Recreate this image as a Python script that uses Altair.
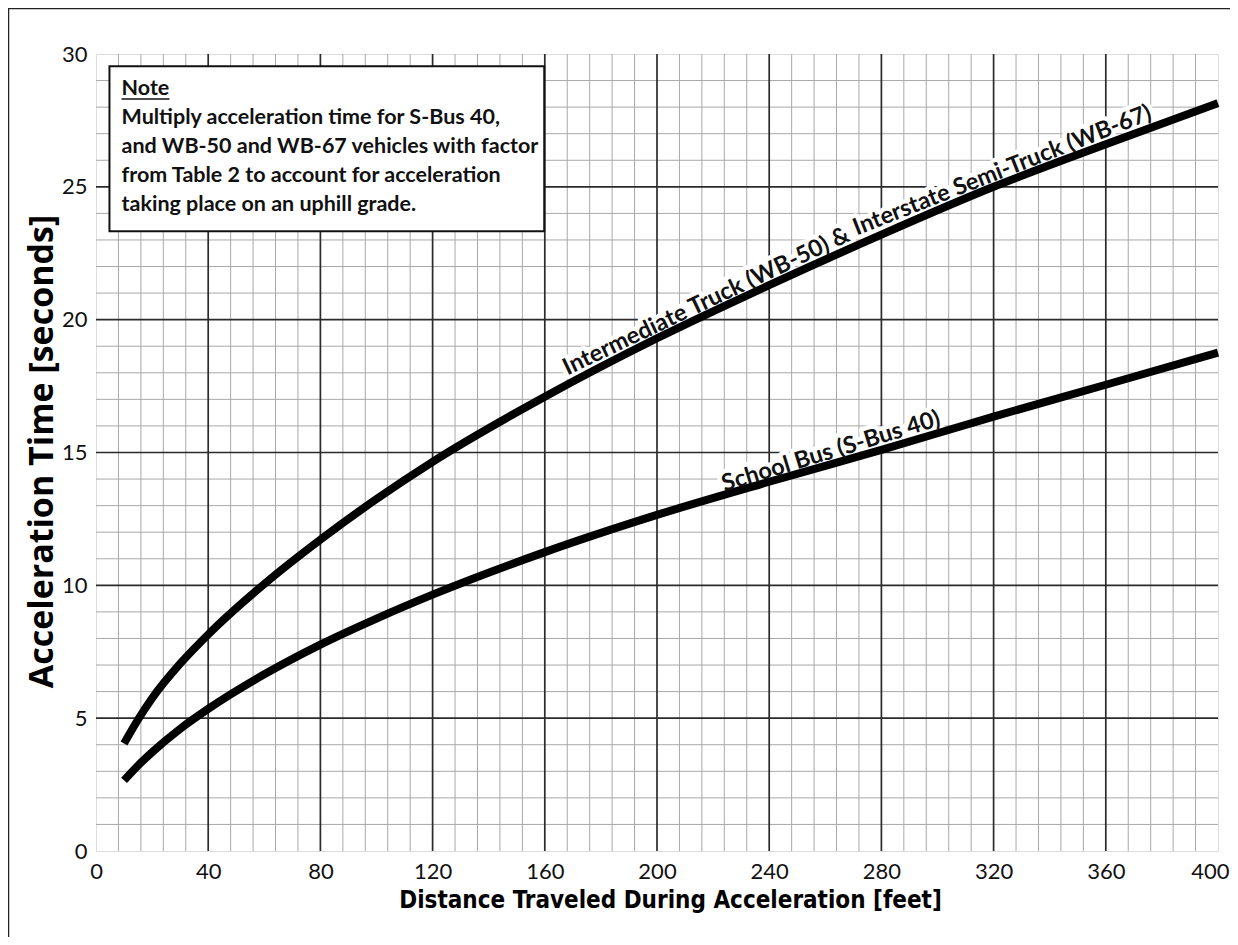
import altair as alt
import pandas as pd
import numpy as np

# ---- data ----
distance_ft = [10, 15, 20, 30, 40, 60, 80, 100, 120, 160, 200, 240, 280, 320, 360, 400]
truck_time_s = [4.05, 4.95, 5.75, 7.05, 8.15, 10.05, 11.72, 13.25, 14.65, 17.1, 19.3, 21.3, 23.2, 25.0, 26.6, 28.15]
bus_time_s = [2.66, 3.22, 3.72, 4.6, 5.35, 6.65, 7.77, 8.75, 9.65, 11.25, 12.65, 13.9, 15.1, 16.35, 17.55, 18.76]

x_ticks = list(range(0, 401, 40))
y_ticks = list(range(0, 31, 5))
x_minor = [v for v in range(8, 400, 8) if v % 40]
y_minor = [v for v in range(1, 30) if v % 5]
x_major_inner = x_ticks[1:-1]
y_major_inner = y_ticks[1:-1]

note_lines = [
    "Note",
    "Multiply acceleration time for S-Bus 40,",
    "and WB-50 and WB-67 vehicles with factor",
    "from Table 2 to account for acceleration",
    "taking place on an uphill grade.",
]
note_baselines = [28.45, 27.36, 26.27, 25.18, 24.09]
note_left = 9.1
note_box = dict(x1=4.8, x2=159.8, y1=23.33, y2=29.54)
note_underline = dict(x1=9.1, x2=26.2, y=28.31)

curve_labels = ["Intermediate Truck (WB-50) &", "Interstate Semi-Truck (WB-67)", "School Bus (S-Bus 40)"]
curve_label_x = [219.5, 324.7, 263.3]
curve_label_series = ["truck", "truck", "bus"]
curve_label_angle = [334.5, 338.5, 343.0]

W, H = 1122, 797
LABEL_FONT = "Lato"
BOLD_FONT = "Lato"

# ---- tables ----
curves = pd.concat([
    pd.DataFrame({"d": distance_ft, "t": truck_time_s, "series": "truck"}),
    pd.DataFrame({"d": distance_ft, "t": bus_time_s, "series": "bus"}),
])
series_map = {"truck": truck_time_s, "bus": bus_time_s}
labels_df = pd.DataFrame({
    "label": curve_labels,
    "d": curve_label_x,
    "t": [float(np.interp(x, distance_ft, series_map[s])) for x, s in zip(curve_label_x, curve_label_series)],
    "ang": curve_label_angle,
})
note_df = pd.DataFrame({"line": note_lines, "t": note_baselines, "d": note_left})
box_df = pd.DataFrame([note_box])
ul_df = pd.DataFrame([note_underline])

xscale = alt.Scale(domain=[0, 400], nice=False, zero=False)
yscale = alt.Scale(domain=[0, 30], nice=False, zero=False)
xaxis = alt.Axis(values=x_ticks, grid=False, ticks=False, domain=False,
                 labelFont=LABEL_FONT, labelFontSize=22, labelColor="#111",
                 labelPadding=10, labelFlush=False,
                 labelAlign={"condition": {"test": "datum.value >= 400", "value": "right"}, "value": "center"},
                 labelOffset={"condition": {"test": "datum.value >= 400", "value": 11}, "value": 0},
                 title="Distance Traveled During Acceleration [feet]",
                 titleFont="DejaVu Sans Condensed, sans-serif",
                 titleFontSize=24, titleFontWeight="bold", titleColor="#000",
                 titleX=574, titleY=56, titleBaseline="alphabetic", titleAlign="center")
yaxis = alt.Axis(values=y_ticks, grid=False, ticks=False, domain=False,
                 labelFont=LABEL_FONT, labelFontSize=22, labelColor="#111",
                 labelPadding=9, labelFlush=False,
                 title="Acceleration Time [seconds]",
                 titleFont="Open Sans", titleFontSize=34, titleFontWeight="bold",
                 titleColor="#000", titleX=-44, titleY=397,
                 titleBaseline="alphabetic", titleAlign="center", titleAngle=270)


def X(f):
    return alt.X(f, type="quantitative", scale=xscale, axis=xaxis)


def Y(f):
    return alt.Y(f, type="quantitative", scale=yscale, axis=yaxis)


minor_v = alt.Chart(pd.DataFrame({"d": x_minor})).mark_rule(color="#a8a8a8", strokeWidth=1).encode(
    x=X("d"), y=alt.value(0), y2=alt.value(H))
minor_h = alt.Chart(pd.DataFrame({"t": y_minor})).mark_rule(color="#a8a8a8", strokeWidth=1).encode(
    y=Y("t"), x=alt.value(0), x2=alt.value(W))
major_v = alt.Chart(pd.DataFrame({"d": x_major_inner})).mark_rule(color="#2b2b2b", strokeWidth=1.7).encode(
    x=X("d"), y=alt.value(0), y2=alt.value(H))
major_h = alt.Chart(pd.DataFrame({"t": y_major_inner})).mark_rule(color="#2b2b2b", strokeWidth=1.7).encode(
    y=Y("t"), x=alt.value(0), x2=alt.value(W))

box = alt.Chart(box_df).mark_rect(fill="white", stroke="#111", strokeWidth=2).encode(
    x=X("x1"), x2="x2", y=Y("y1"), y2="y2")
note_text = alt.Chart(note_df).mark_text(align="left", baseline="alphabetic", font=BOLD_FONT,
                                         fontWeight="bold", fontSize=21.5, color="#111").encode(
    x=X("d"), y=Y("t"), text="line")
underline = alt.Chart(ul_df).mark_rule(color="#111", strokeWidth=1.5).encode(
    x=X("x1"), x2="x2", y=Y("y"))

halo = alt.Chart(labels_df).mark_text(align="center", baseline="alphabetic", dy=-5, font=BOLD_FONT,
                                      fontWeight="bold", fontSize=23.5, color="white", stroke="white",
                                      strokeWidth=9, strokeJoin="round").encode(
    x=X("d"), y=Y("t"), text="label", angle=alt.Angle("ang:Q", scale=None))
lines = alt.Chart(curves).mark_line(color="black", strokeWidth=8, interpolate="monotone",
                                    strokeCap="butt").encode(
    x=X("d"), y=Y("t"), detail="series:N")
label_text = alt.Chart(labels_df).mark_text(align="center", baseline="alphabetic", dy=-5, font=BOLD_FONT,
                                            fontWeight="bold", fontSize=23.5, color="#111").encode(
    x=X("d"), y=Y("t"), text="label", angle=alt.Angle("ang:Q", scale=None))

dummy = pd.DataFrame({"k": [0]})
frame_left = alt.Chart(dummy).mark_rule(color="#222", strokeWidth=1.5).encode(
    x=alt.value(-87.5), y=alt.value(-46), y2=alt.value(H + 86))
frame_top = alt.Chart(dummy).mark_rule(color="#222", strokeWidth=1.5).encode(
    x=alt.value(-88), x2=alt.value(W + 12), y=alt.value(-45.5))

chart = alt.layer(
    minor_v, minor_h, major_v, major_h, box, note_text, underline, halo, lines, label_text,
    frame_left, frame_top,
).properties(
    width=W, height=H,
    autosize=alt.AutoSizeParams(type="none"),
    padding={"left": 88, "top": 46, "right": 12, "bottom": 86},
).configure_view(stroke="#1a1a1a", strokeWidth=2).configure(background="white")

chart.save("out.html", embed_options={"renderer": "svg", "actions": False})
